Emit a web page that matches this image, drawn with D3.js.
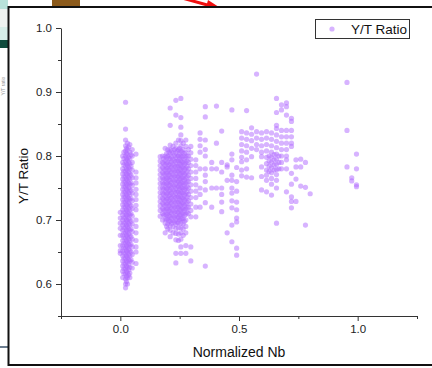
<!DOCTYPE html>
<html>
<head>
<meta charset="utf-8">
<script src="https://cdn.jsdelivr.net/npm/d3@7"></script>
<style>
  body { margin: 0; background: #fff; }
  svg { display: block; font-family: "Liberation Sans", Arial, sans-serif; }
</style>
</head>
<body>
<script>
// Nb ~ 0.0 group: [normalized Nb, [Y/T ratios]]
var lowNb = [
  [0.000, [0.712, 0.703, 0.695, 0.687, 0.676, 0.660, 0.652, 0.648]],
  [0.010, [0.800, 0.790, 0.780, 0.772, 0.764, 0.756, 0.748, 0.740, 0.732, 0.724, 0.716, 0.708, 0.700, 0.692, 0.684, 0.676, 0.668, 0.660, 0.652, 0.644, 0.636, 0.628, 0.620, 0.610]],
  [0.015, [0.806, 0.796, 0.786, 0.776, 0.768, 0.760, 0.752, 0.744, 0.736, 0.728, 0.720, 0.712, 0.704, 0.696, 0.688, 0.680, 0.672, 0.664, 0.656, 0.648, 0.640, 0.632, 0.624, 0.616]],
  [0.022, [0.884, 0.842, 0.825, 0.816, 0.808, 0.800, 0.792, 0.784, 0.776, 0.768, 0.760, 0.752, 0.744, 0.736, 0.728, 0.720, 0.712, 0.704, 0.696, 0.688, 0.680, 0.672, 0.664, 0.656, 0.648, 0.640, 0.632, 0.624, 0.616, 0.608, 0.600, 0.594]],
  [0.026, [0.812, 0.804, 0.796, 0.788, 0.780, 0.772, 0.764, 0.756, 0.748, 0.740, 0.732, 0.724, 0.716, 0.708, 0.700, 0.692, 0.684, 0.676, 0.668, 0.660, 0.652, 0.644, 0.636, 0.628, 0.620, 0.612, 0.604]],
  [0.030, [0.820, 0.810, 0.802, 0.794, 0.786, 0.778, 0.770, 0.762, 0.754, 0.746, 0.738, 0.730, 0.722, 0.714, 0.706, 0.698, 0.690, 0.682, 0.674, 0.666, 0.658, 0.650, 0.642, 0.634, 0.626, 0.618, 0.610, 0.600]],
  [0.035, [0.814, 0.798, 0.790, 0.782, 0.774, 0.766, 0.758, 0.750, 0.742, 0.734, 0.726, 0.718, 0.710, 0.702, 0.694, 0.686, 0.678, 0.670, 0.662, 0.654, 0.646, 0.638, 0.630, 0.622, 0.614]],
  [0.040, [0.818, 0.806, 0.796, 0.788, 0.780, 0.772, 0.764, 0.756, 0.748, 0.740, 0.732, 0.724, 0.716, 0.708, 0.700, 0.692, 0.684, 0.676, 0.668, 0.660, 0.652, 0.644, 0.636, 0.626, 0.617, 0.610]],
  [0.045, [0.802, 0.784, 0.770, 0.758, 0.746, 0.734, 0.722, 0.710, 0.698, 0.686, 0.674, 0.662, 0.650, 0.638]],
  [0.050, [0.810, 0.800, 0.790, 0.778, 0.766, 0.754, 0.742, 0.730, 0.718, 0.706, 0.694, 0.682, 0.670, 0.658, 0.646, 0.634, 0.625]],
  [0.066, [0.803, 0.775, 0.766, 0.758, 0.748, 0.740, 0.732, 0.723, 0.716, 0.700, 0.690, 0.680, 0.668, 0.658, 0.650, 0.632]]
];

// Nb ~ 0.25 group
var midNb = [
  [0.168, [0.799, 0.792, 0.785, 0.778, 0.771, 0.764, 0.757, 0.750, 0.743, 0.736, 0.729, 0.722, 0.715, 0.706]],
  [0.178, [0.800, 0.790, 0.782, 0.774, 0.766, 0.758, 0.750, 0.742, 0.734, 0.726, 0.718, 0.710, 0.700]],
  [0.183, [0.796, 0.788, 0.780, 0.772, 0.764, 0.756, 0.748, 0.740, 0.732, 0.724, 0.716, 0.708]],
  [0.189, [0.812, 0.800, 0.793, 0.786, 0.779, 0.772, 0.765, 0.758, 0.751, 0.744, 0.737, 0.730, 0.723, 0.716, 0.709, 0.702, 0.695, 0.680]],
  [0.195, [0.804, 0.797, 0.789, 0.781, 0.773, 0.765, 0.757, 0.749, 0.741, 0.733, 0.725, 0.717, 0.709, 0.701, 0.690]],
  [0.200, [0.810, 0.800, 0.790, 0.782, 0.774, 0.766, 0.758, 0.750, 0.742, 0.734, 0.726, 0.718, 0.710, 0.702, 0.694, 0.686]],
  [0.205, [0.806, 0.796, 0.786, 0.778, 0.770, 0.762, 0.754, 0.746, 0.738, 0.730, 0.722, 0.714, 0.706, 0.698]],
  [0.210, [0.875, 0.848, 0.817, 0.810, 0.803, 0.796, 0.789, 0.782, 0.775, 0.768, 0.761, 0.754, 0.747, 0.740, 0.733, 0.726, 0.719, 0.712, 0.705, 0.698, 0.691, 0.684, 0.674]],
  [0.216, [0.808, 0.799, 0.791, 0.783, 0.775, 0.767, 0.759, 0.751, 0.743, 0.735, 0.727, 0.719, 0.711, 0.703, 0.695]],
  [0.222, [0.815, 0.805, 0.795, 0.787, 0.779, 0.771, 0.763, 0.755, 0.747, 0.739, 0.731, 0.723, 0.715, 0.707, 0.699, 0.690, 0.680]],
  [0.228, [0.810, 0.801, 0.793, 0.785, 0.777, 0.769, 0.761, 0.753, 0.745, 0.737, 0.729, 0.721, 0.713, 0.705, 0.697]],
  [0.234, [0.887, 0.864, 0.820, 0.812, 0.805, 0.798, 0.791, 0.784, 0.777, 0.770, 0.763, 0.756, 0.749, 0.742, 0.735, 0.728, 0.721, 0.714, 0.707, 0.700, 0.693, 0.686, 0.679, 0.669, 0.648, 0.633]],
  [0.240, [0.808, 0.800, 0.792, 0.784, 0.776, 0.768, 0.760, 0.752, 0.744, 0.736, 0.728, 0.720, 0.712, 0.704, 0.696]],
  [0.245, [0.825, 0.810, 0.800, 0.792, 0.784, 0.776, 0.768, 0.760, 0.752, 0.744, 0.736, 0.728, 0.720, 0.712, 0.704, 0.696, 0.688, 0.678, 0.668]],
  [0.250, [0.812, 0.804, 0.796, 0.788, 0.780, 0.772, 0.764, 0.756, 0.748, 0.740, 0.732, 0.724, 0.716, 0.708, 0.700]],
  [0.255, [0.890, 0.860, 0.845, 0.833, 0.824, 0.816, 0.808, 0.800, 0.793, 0.786, 0.779, 0.772, 0.765, 0.758, 0.751, 0.744, 0.737, 0.730, 0.723, 0.716, 0.709, 0.702, 0.695, 0.688, 0.680, 0.670, 0.658, 0.648]],
  [0.260, [0.806, 0.798, 0.790, 0.782, 0.774, 0.766, 0.758, 0.750, 0.742, 0.734, 0.726, 0.718, 0.710, 0.702]],
  [0.265, [0.820, 0.810, 0.800, 0.790, 0.782, 0.774, 0.766, 0.758, 0.750, 0.742, 0.734, 0.726, 0.718, 0.710, 0.702, 0.694, 0.686, 0.676]],
  [0.270, [0.804, 0.795, 0.787, 0.779, 0.771, 0.763, 0.755, 0.747, 0.739, 0.731, 0.723, 0.715, 0.707, 0.698]],
  [0.276, [0.825, 0.815, 0.805, 0.797, 0.789, 0.781, 0.773, 0.765, 0.757, 0.749, 0.741, 0.733, 0.725, 0.717, 0.709, 0.700, 0.690, 0.680, 0.660, 0.648]],
  [0.281, [0.800, 0.792, 0.784, 0.776, 0.768, 0.760, 0.752, 0.744, 0.736, 0.728, 0.720, 0.712]],
  [0.287, [0.810, 0.800, 0.790, 0.780, 0.770, 0.760, 0.750, 0.740, 0.730, 0.720, 0.710]],
  [0.297, [0.815, 0.805, 0.795, 0.785, 0.775, 0.765, 0.755, 0.745, 0.735, 0.725, 0.715, 0.705, 0.658, 0.636]],
  [0.318, [0.794, 0.785, 0.775, 0.765, 0.755, 0.745, 0.735, 0.720, 0.705]]
];

// Nb ~ 0.35 - 1.0 points
var highNb = [
  [0.336, [0.836, 0.826, 0.816, 0.806, 0.780, 0.750, 0.740, 0.720]],
  [0.358, [0.877, 0.861, 0.825, 0.810, 0.800, 0.780, 0.770, 0.760, 0.747, 0.727, 0.628]],
  [0.385, [0.790, 0.780, 0.750, 0.720]],
  [0.405, [0.878, 0.820, 0.780, 0.750]],
  [0.427, [0.839, 0.790, 0.775, 0.750, 0.740, 0.728, 0.713]],
  [0.450, [0.786, 0.783, 0.762, 0.680]],
  [0.470, [0.872, 0.803, 0.794, 0.770, 0.762, 0.750, 0.742, 0.730, 0.719, 0.692, 0.666]],
  [0.490, [0.782, 0.760, 0.745, 0.728, 0.716, 0.703, 0.697, 0.656, 0.645]],
  [0.511, [0.838, 0.828, 0.818, 0.808, 0.798, 0.791, 0.778, 0.769]],
  [0.532, [0.871, 0.836, 0.826, 0.816, 0.806, 0.794, 0.780, 0.767]],
  [0.553, [0.844, 0.834, 0.824, 0.812, 0.799, 0.766]],
  [0.574, [0.928, 0.838, 0.828, 0.818, 0.810]],
  [0.595, [0.836, 0.826, 0.816, 0.806, 0.799, 0.783, 0.768, 0.747]],
  [0.616, [0.838, 0.828, 0.818, 0.808, 0.798, 0.788, 0.778, 0.770, 0.762, 0.744]],
  [0.627, [0.800, 0.792, 0.784, 0.776]],
  [0.637, [0.836, 0.826, 0.816, 0.806, 0.798, 0.790, 0.782, 0.774, 0.765, 0.756, 0.739]],
  [0.648, [0.802, 0.794, 0.786, 0.778]],
  [0.658, [0.890, 0.868, 0.848, 0.843, 0.833, 0.823, 0.813, 0.803, 0.795, 0.787, 0.779, 0.771, 0.762, 0.750, 0.695]],
  [0.668, [0.800, 0.790, 0.780]],
  [0.679, [0.880, 0.872, 0.840, 0.830, 0.820, 0.810, 0.800, 0.790, 0.780]],
  [0.700, [0.883, 0.877, 0.864, 0.840, 0.830, 0.820, 0.810, 0.800, 0.794, 0.780, 0.744]],
  [0.721, [0.859, 0.854, 0.840, 0.830, 0.820, 0.815, 0.773, 0.756, 0.736, 0.729, 0.719]],
  [0.740, [0.794, 0.783, 0.764, 0.729]],
  [0.760, [0.795, 0.783, 0.753]],
  [0.780, [0.790, 0.751, 0.692]],
  [0.800, [0.741]],
  [0.955, [0.915, 0.840, 0.783]],
  [0.975, [0.766, 0.761]],
  [0.995, [0.803, 0.780, 0.755, 0.752]]
];

var seriesName = "Y/T Ratio";
var xTicks = [0, 0.5, 1.0], xMinor = [-0.25, 0.25, 0.75, 1.25];
var yTicks = [0.6, 0.7, 0.8, 0.9, 1.0], yMinor = [0.55, 0.65, 0.75, 0.85, 0.95];

var width = 432, height = 368;
var svg = d3.select("body").append("svg")
    .attr("width", width)
    .attr("height", height);

// bits of the page around the screenshot
svg.append("rect").attr("x", 0).attr("y", 0).attr("width", 8).attr("height", 9).attr("fill", "#b8e2da");
svg.append("rect").attr("x", 0).attr("y", 9).attr("width", 8).attr("height", 18).attr("fill", "#eef2f0");
svg.append("rect").attr("x", 0).attr("y", 27).attr("width", 8).attr("height", 13).attr("fill", "#d6ede8");
svg.append("rect").attr("x", 0).attr("y", 40).attr("width", 8).attr("height", 8).attr("fill", "#0f4a3c");
svg.append("text").attr("transform", "translate(5,86) rotate(-90)")
    .attr("text-anchor", "middle").attr("font-size", 5).attr("fill", "#999").text("Y/T ratio");
svg.append("line").attr("x1", 0).attr("x2", 8).attr("y1", 347).attr("y2", 347)
    .attr("stroke", "#6b7d8f").attr("stroke-width", 2);
svg.append("rect").attr("x", 52).attr("y", 0).attr("width", 28).attr("height", 6).attr("fill", "#8b5a1b");
svg.append("line").attr("x1", 182).attr("y1", -2).attr("x2", 211).attr("y2", 6)
    .attr("stroke", "#f01010").attr("stroke-width", 3);
svg.append("path").attr("d", "M222,9 L208,0 L205,11 Z").attr("fill", "#f01010");

// frame of the graph window
svg.append("rect").attr("x", 8.5).attr("y", 7).attr("width", 440).attr("height", 358)
    .attr("fill", "#fff").attr("stroke", "#111").attr("stroke-width", 2);

var x = d3.scaleLinear().domain([-0.25, 1.25]).range([61, 417]);
var y = d3.scaleLinear().domain([0.55, 1.0]).range([316, 28]);

// flatten columns into points
var points = [];
[lowNb, midNb, highNb].forEach(function(group) {
  group.forEach(function(col) {
    col[1].forEach(function(v) { points.push({ nb: col[0], yt: v }); });
  });
});

svg.append("g").selectAll("circle")
    .data(points)
  .enter().append("circle")
    .attr("cx", function(d) { return x(d.nb); })
    .attr("cy", function(d) { return y(d.yt); })
    .attr("r", 2.6)
    .attr("fill", "#b068ff")
    .attr("fill-opacity", 0.5);

// axes
var axisColor = "#333";
svg.append("g").attr("transform", "translate(0,316)")
    .call(d3.axisBottom(x).tickValues(xTicks).tickFormat(d3.format(".1f")).tickSize(5).tickSizeOuter(0).tickPadding(4));
svg.append("g").attr("transform", "translate(0,316)")
    .call(d3.axisBottom(x).tickValues(xMinor).tickFormat("").tickSize(3).tickSizeOuter(0))
    .select(".domain").remove();
svg.append("g").attr("transform", "translate(61,0)")
    .call(d3.axisLeft(y).tickValues(yTicks).tickFormat(d3.format(".1f")).tickSize(5).tickSizeOuter(0).tickPadding(4));
svg.append("g").attr("transform", "translate(61,0)")
    .call(d3.axisLeft(y).tickValues(yMinor).tickFormat("").tickSize(3).tickSizeOuter(0))
    .select(".domain").remove();

svg.selectAll(".domain, .tick line").attr("stroke", axisColor);
svg.selectAll(".tick text").attr("font-size", 11.5).attr("fill", "#222")
    .attr("font-family", "'Liberation Sans', Arial, sans-serif");

// axis titles
svg.append("text")
    .attr("x", 239).attr("y", 357)
    .attr("text-anchor", "middle").attr("font-size", 14).attr("fill", "#111")
    .text("Normalized Nb");
svg.append("text")
    .attr("transform", "translate(28,176) rotate(-90)")
    .attr("text-anchor", "middle").attr("font-size", 13.5).attr("fill", "#111")
    .text("Y/T Ratio");

// legend
var lg = svg.append("g");
lg.append("rect").attr("x", 315.5).attr("y", 19.5).attr("width", 94).attr("height", 19)
    .attr("fill", "#fff").attr("stroke", "#333");
lg.append("circle").attr("cx", 332).attr("cy", 29).attr("r", 2.6)
    .attr("fill", "#b068ff").attr("fill-opacity", 0.5);
lg.append("text").attr("x", 351).attr("y", 34).attr("font-size", 13.5).attr("fill", "#111")
    .text(seriesName);
</script>
</body>
</html>
